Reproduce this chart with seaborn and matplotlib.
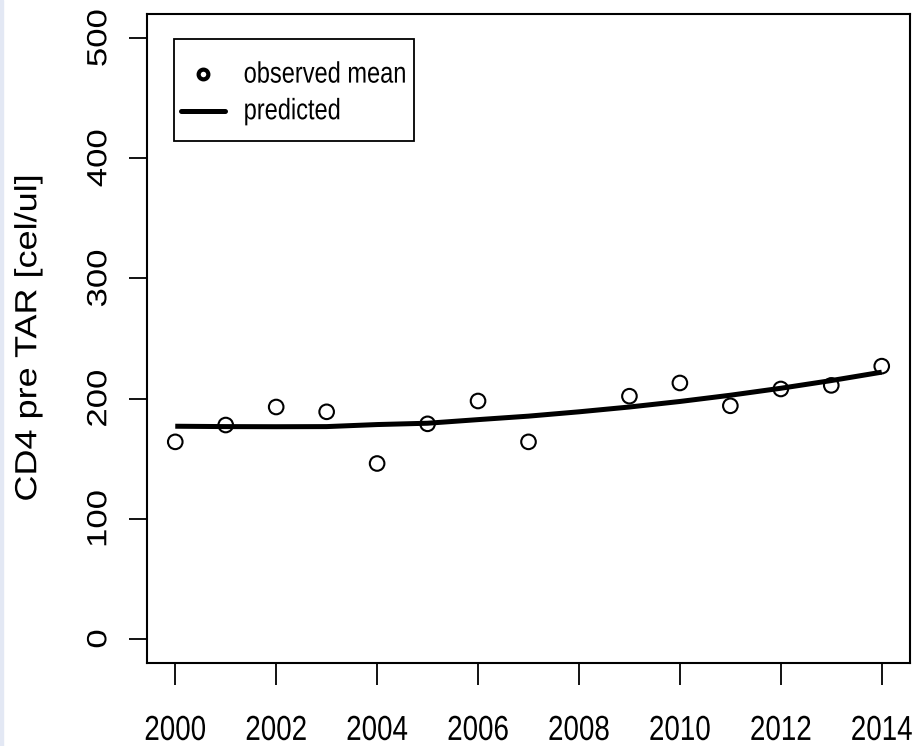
import matplotlib
matplotlib.use("Agg")
import matplotlib.pyplot as plt
from matplotlib.lines import Line2D
from matplotlib.patches import Rectangle
from matplotlib.patheffects import AbstractPathEffect
from matplotlib.transforms import Affine2D
from matplotlib.path import Path
import seaborn as sns
import pandas as pd

# observed yearly means (no value for 2008)
obs_years = [2000, 2001, 2002, 2003, 2004, 2005, 2006, 2007,
             2009, 2010, 2011, 2012, 2013, 2014]
obs_cd4 = [164, 178, 193, 189, 146, 179, 198, 164,
           202, 213, 194, 208, 211, 227]

# model prediction
pred_years = list(range(2000, 2015))
pred_cd4 = [177, 176.7, 176.6, 176.7, 178.4, 179.5, 182.5, 185.4,
            189, 193, 197.6, 202.8, 208.6, 215, 222]

x_ticks = list(range(2000, 2015, 2))
y_ticks = [0, 100, 200, 300, 400, 500]


class Stretch(AbstractPathEffect):
    """the original image is stretched vertically, so glyphs look tall"""

    def __init__(self, sx=1.0, sy=1.0):
        super().__init__()
        self.sx = sx
        self.sy = sy

    def draw_path(self, renderer, gc, tpath, affine, rgbFace=None):
        ext = tpath.get_extents()
        cx = (ext.x0 + ext.x1) / 2
        st = Affine2D().translate(-cx, 0).scale(self.sx, self.sy).translate(cx, 0)
        renderer.draw_path(gc, tpath, st + affine, rgbFace)


def tall_box(x0, y0, width, height, mutation_size, dy_top=19.5, dy_bot=9.5):
    # R legend box: little side padding, more room above and below
    y1 = y0 + height + dy_top
    y0 -= dy_bot
    x1 = x0 + width
    return Path([(x0, y0), (x1, y0), (x1, y1), (x0, y1), (x0, y0)],
                closed=True)


sns.set_theme(style="ticks")
plt.rcParams["font.family"] = ["Liberation Sans", "DejaVu Sans"]
plt.rcParams.update({"text.color": "black", "axes.labelcolor": "black",
                     "xtick.color": "black", "ytick.color": "black"})

obs = pd.DataFrame({"year": obs_years, "cd4": obs_cd4})
pred = pd.DataFrame({"year": pred_years, "cd4": pred_cd4})

fig = plt.figure(figsize=(9.21, 7.46), dpi=100)
fig.patch.set_facecolor("white")
fig.patches.append(Rectangle((0, 0), 3 / 921, 1, transform=fig.transFigure,
                             color="#e3e8f4", zorder=0))
ax = fig.add_axes([147 / 921, 83 / 746, 763 / 921, 649 / 746])

sns.lineplot(data=pred, x="year", y="cd4", ax=ax, color="black", lw=3.6,
             solid_capstyle="butt", zorder=2)
sns.scatterplot(data=obs, x="year", y="cd4", ax=ax, marker="o", s=110,
                facecolor="none", edgecolor="black", linewidth=1.5, zorder=3)

ax.set_xlim(1999.44, 2014.56)
ax.set_ylim(-20, 520)
ax.set_xticks(x_ticks)
ax.set_yticks(y_ticks)
ax.set_xticklabels([str(t) for t in x_ticks], fontsize=20)
ax.set_yticklabels([str(t) for t in y_ticks], fontsize=20, rotation=90,
                   va="center")
for lab in ax.get_xticklabels():
    lab.set_path_effects([Stretch(sy=1.25)])
for lab in ax.get_yticklabels():
    lab.set_path_effects([Stretch(sx=1.25)])
ax.tick_params(axis="x", length=16, width=1.3, pad=25)
ax.tick_params(axis="y", length=13, width=1.3, pad=12)
ax.set_xlabel("")
ax.set_ylabel("CD4 pre TAR [cel/ul]", fontsize=22)
ax.yaxis.label.set_path_effects([Stretch(sx=1.18)])
ax.yaxis.set_label_coords(-0.136, 0.5)

for sp in ax.spines.values():
    sp.set_color("black")
    sp.set_linewidth(1.5)

handles = [
    Line2D([], [], ls="none", marker="o", markersize=7, mfc="none",
           mec="black", mew=3),
    Line2D([], [], color="black", lw=3.6),
]
leg = ax.legend(handles, ["observed mean", "predicted"], loc="upper left",
                bbox_to_anchor=(0.0354, 0.9314), borderaxespad=0,
                prop={"size": 17}, frameon=True,
                fancybox=False, edgecolor="black", framealpha=1,
                handlelength=1.85, handletextpad=0.8, borderpad=0.3,
                labelspacing=0.62)
leg.get_frame().set_linewidth(1.3)
leg.get_frame().set_boxstyle(tall_box)
for t in leg.get_texts():
    t.set_path_effects([Stretch(sy=1.25)])

fig.savefig("out.png", dpi=100)
